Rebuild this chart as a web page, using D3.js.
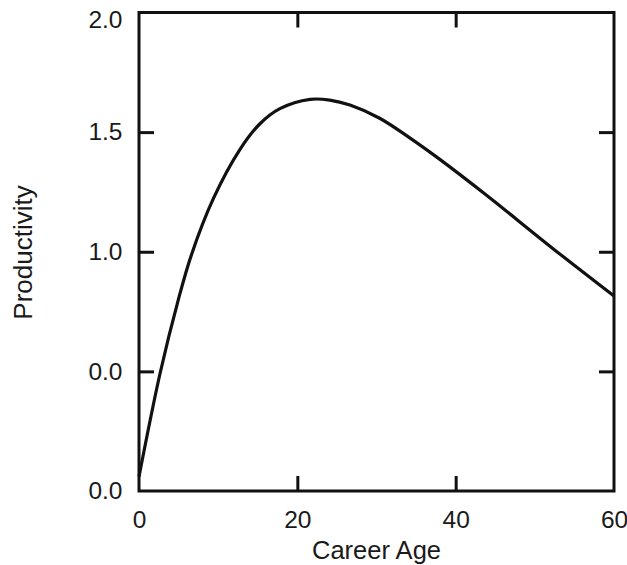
<!DOCTYPE html>
<html>
<head>
<meta charset="utf-8">
<script src="https://cdn.jsdelivr.net/npm/d3@7"></script>
<style>
  html, body { margin: 0; padding: 0; background: #fff; }
  svg { display: block; }
  text { font-family: "Liberation Sans", Arial, Helvetica, sans-serif; fill: #1a1a1a; }
</style>
</head>
<body>
<svg id="chart" width="627" height="565"></svg>
<script>
// ---- data ----
const careerAge    = [0, 2.65, 4.97, 6.65, 9.39, 12.76, 15.28, 17.8, 21.6, 24.1, 26.65, 30.4, 34.2, 38.0, 43.9, 52.3, 60];
const productivity = [0.06, 0.49, 0.80, 0.99, 1.222, 1.428, 1.535, 1.598, 1.637, 1.634, 1.613, 1.558, 1.476, 1.386, 1.236, 1.013, 0.815];
const xTickValues = [0, 20, 40, 60];
const xTickLabels = ["0", "20", "40", "60"];
const yTickValues = [0, 0.5, 1.0, 1.5, 2.0];
const yTickLabels = ["0.0", "0.0", "1.0", "1.5", "2.0"];
const innerXTicks = [20, 40];
const innerYTicks = [0.5, 1.0, 1.5];
const xTitle = "Career Age";
const yTitle = "Productivity";

// ---- layout ----
const L = 139, R = 614, T = 12.5, B = 491;
const svg = d3.select("#chart");
const x = d3.scaleLinear().domain([0, 60]).range([L, R]);
const y = d3.scaleLinear().domain([0, 2]).range([B, T]);

// inner ticks
function innerAxis(gen, tr) {
  const g = svg.append("g").attr("transform", tr).call(gen);
  g.select(".domain").remove();
  g.selectAll("line").attr("stroke", "#111").attr("stroke-width", 3);
  g.selectAll("text").remove();
}
innerAxis(d3.axisBottom(x).tickValues(innerXTicks).tickSize(-15), `translate(0,${B})`);
innerAxis(d3.axisTop(x).tickValues(innerXTicks).tickSize(-15), `translate(0,${T})`);
innerAxis(d3.axisLeft(y).tickValues(innerYTicks).tickSize(-15), `translate(${L},0)`);
innerAxis(d3.axisRight(y).tickValues(innerYTicks).tickSize(-15), `translate(${R},0)`);

// frame
svg.append("rect")
  .attr("x", L).attr("y", T)
  .attr("width", R - L).attr("height", B - T)
  .attr("fill", "none").attr("stroke", "#111").attr("stroke-width", 3);

// tick labels
const xl = svg.append("g").attr("transform", `translate(0,${B})`)
  .call(d3.axisBottom(x).tickValues(xTickValues).tickFormat((d, i) => xTickLabels[i]).tickSize(0));
xl.select(".domain").remove();
xl.selectAll("text").attr("y", 37).attr("dy", 0).attr("font-size", 24.5)
  .attr("font-family", null).attr("fill", "#1a1a1a");

const yl = svg.append("g").attr("transform", `translate(${L},0)`)
  .call(d3.axisLeft(y).tickValues(yTickValues).tickFormat((d, i) => yTickLabels[i]).tickSize(0));
yl.select(".domain").remove();
yl.selectAll("text").attr("x", -16.5).attr("dy", d => d === 2 ? "0.62em" : "0.32em")
  .attr("font-size", 24.5).attr("font-family", null).attr("fill", "#1a1a1a");

// titles
svg.append("text").attr("x", (L + R) / 2).attr("y", 559)
  .attr("text-anchor", "middle").attr("font-size", 25.5).text(xTitle);
svg.append("text").attr("transform", `translate(31.5,252.5) rotate(-90)`)
  .attr("text-anchor", "middle").attr("font-size", 26).text(yTitle);

// curve
const pts = careerAge.map((a, i) => [a, productivity[i]]);
svg.append("path").datum(pts)
  .attr("fill", "none").attr("stroke", "#111").attr("stroke-width", 3.2)
  .attr("stroke-linejoin", "round")
  .attr("d", d3.line().x(d => x(d[0])).y(d => y(d[1])).curve(d3.curveCatmullRom.alpha(0.5)));
</script>
</body>
</html>
